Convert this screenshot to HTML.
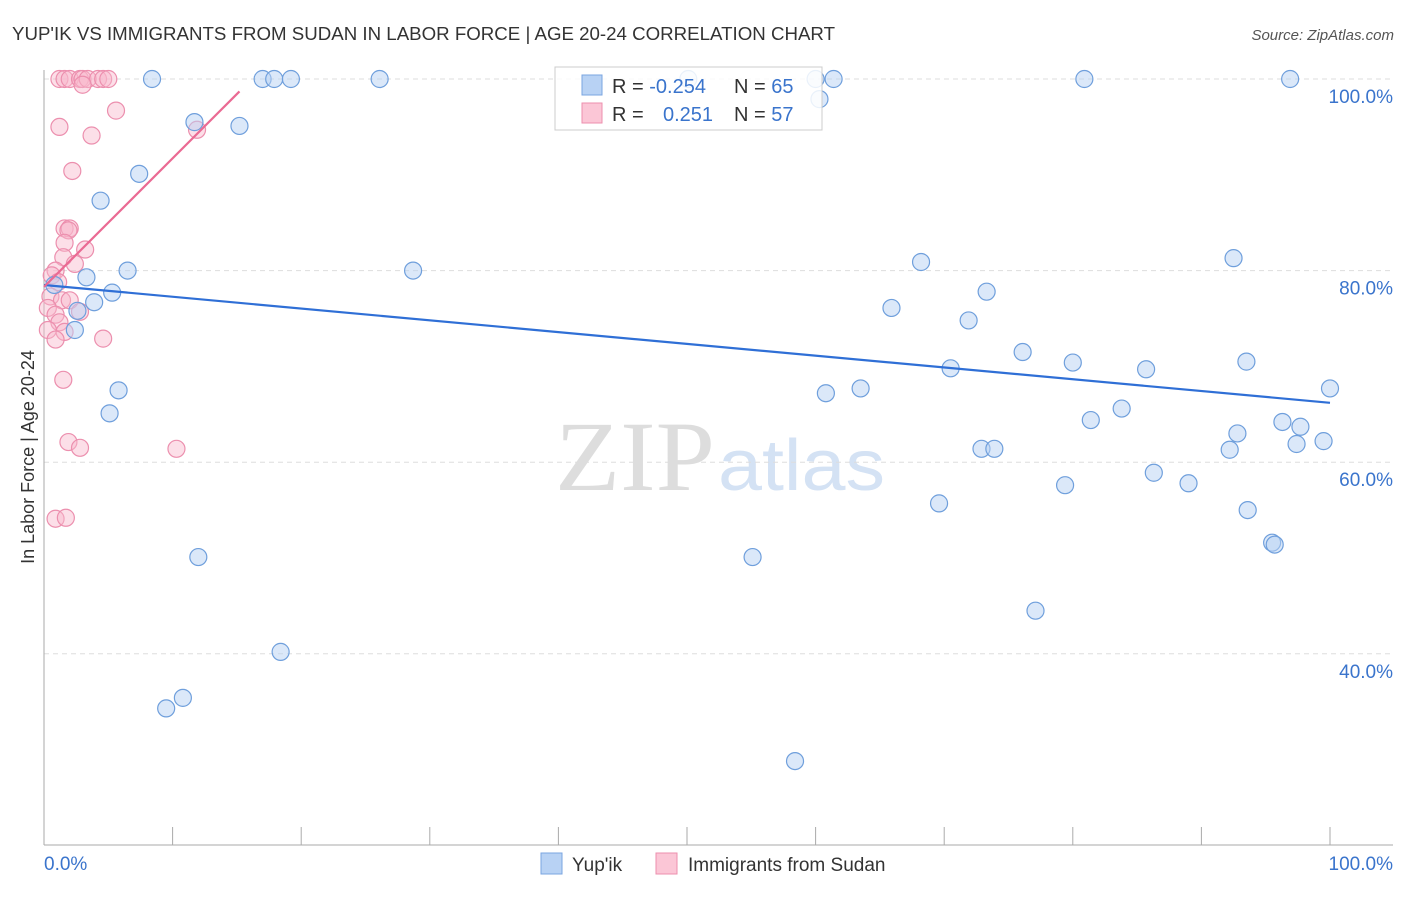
<!DOCTYPE html>
<html><head><meta charset="utf-8"><style>
body{margin:0;background:#fff;font-family:"Liberation Sans",sans-serif;}
</style></head><body>
<svg width="1406" height="892" xmlns="http://www.w3.org/2000/svg">
<text x="12" y="40" font-size="18" fill="#333" textLength="823" lengthAdjust="spacingAndGlyphs">YUP'IK VS IMMIGRANTS FROM SUDAN IN LABOR FORCE | AGE 20-24 CORRELATION CHART</text>
<text x="1394" y="40" font-size="15" fill="#555" font-style="italic" text-anchor="end">Source: ZipAtlas.com</text>
<text x="715" y="490" font-size="100" fill="#ddd" text-anchor="end" font-family="Liberation Serif" textLength="160" lengthAdjust="spacingAndGlyphs">ZIP</text>
<text x="718" y="490" font-size="72" fill="#d4e2f4" textLength="167" lengthAdjust="spacingAndGlyphs">atlas</text>
<g id="grid"></g>
<g id="axes"></g>
<g id="marks"></g>
<text transform="translate(34,457) rotate(-90)" font-size="18" fill="#333" text-anchor="middle">In Labor Force | Age 20-24</text>
<g>
<rect x="555" y="67" width="267" height="63" fill="#fff" fill-opacity="0.85" stroke="#ccc"/>
<rect x="582" y="75" width="20" height="20" fill="#b8d2f4" stroke="#7aa5e0"/>
<rect x="582" y="103" width="20" height="20" fill="#fbc6d6" stroke="#ec8fae"/>
<text x="612" y="93" font-size="20" fill="#333">R = <tspan fill="#3a74cc">-0.254</tspan></text>
<text x="734" y="93" font-size="20" fill="#333">N = <tspan fill="#3a74cc">65</tspan></text>
<text x="612" y="121" font-size="20" fill="#333">R = <tspan fill="#3a74cc" x="663">0.251</tspan></text>
<text x="734" y="121" font-size="20" fill="#333">N = <tspan fill="#3a74cc">57</tspan></text>
</g>
<g>
<rect x="541" y="853" width="21" height="21" fill="#b8d2f4" stroke="#7aa5e0"/>
<text x="572" y="871" font-size="19" fill="#333">Yup'ik</text>
<rect x="656" y="853" width="21" height="21" fill="#fbc6d6" stroke="#ec8fae"/>
<text x="688" y="871" font-size="19" fill="#333">Immigrants from Sudan</text>
</g>
</svg>
<script>
const yTicks=[100,80,60,40];
const yTickLabels=["100.0%","80.0%","60.0%","40.0%"];
const xTicks=[10,20,30,40,50,60,70,80,90,100];
const blueX=[8.4,17,17.9,19.2,26.1,50.1,60,61.4,80.9,96.9,60.3,11.7,15.2,7.4,4.4,6.5,3.3,28.7,5.3,3.9,2.6,2.4,0.8,5.8,5.1,12,18.4,9.5,10.8,68.2,65.9,73.3,71.9,76.1,70.5,80,85.7,93.5,92.5,100,60.8,63.5,81.4,83.8,96.3,97.7,92.8,97.4,99.5,92.2,72.9,73.9,69.6,79.4,86.3,89,93.6,95.5,95.7,55.1,77.1,58.4];
const blueY=[100,100,100,100,100,100,100,100,100,100,97.9,95.5,95.1,90.1,87.3,80,79.3,80,77.7,76.7,75.8,73.8,78.5,67.5,65.1,50.1,40.2,34.3,35.4,80.9,76.1,77.8,74.8,71.5,69.8,70.4,69.7,70.5,81.3,67.7,67.2,67.7,64.4,65.6,64.2,63.7,63,61.9,62.2,61.3,61.4,61.4,55.7,57.6,58.9,57.8,55,51.6,51.4,50.1,44.5,28.8];
const pinkX=[1.2,1.6,2,2.8,3,3.4,4.2,4.6,5,3,5.6,1.2,3.7,11.9,2.2,1.6,2,1.9,1.6,3.2,1.5,2.4,0.9,0.6,1.1,0.5,1.4,2,0.3,0.9,2.8,1.2,0.3,1.6,0.9,4.6,1.5,1.9,2.8,10.3,0.9,1.7];
const pinkY=[100,100,100,100,100,100,100,100,100,99.4,96.7,95,94.1,94.7,90.4,84.4,84.4,84.2,82.9,82.2,81.4,80.7,80,79.5,78.8,77.3,76.9,76.9,76.1,75.4,75.7,74.6,73.8,73.6,72.8,72.9,68.6,62.1,61.5,61.4,54.1,54.2];
const blueTrend=[[0,78.5],[100,66.2]];
const pinkTrend=[[0,78.3],[15.2,98.7]];
const NS="http://www.w3.org/2000/svg";
const X=v=>44+v*12.86, Y=v=>79+(100-v)*9.58;
function mk(t,a,p){const e=document.createElementNS(NS,t);for(const k in a)e.setAttribute(k,a[k]);document.getElementById(p).appendChild(e);return e;}
yTicks.forEach((t,i)=>{
 const l=mk('line',{x1:44,x2:1393,y1:Y(t),y2:Y(t),stroke:'#ddd','stroke-dasharray':'5,4'},'grid');
 
 
 const tx=mk('text',{x:1393,y:Y(t)+24,'font-size':19,fill:'#3a74cc','text-anchor':'end'},'axes');
 tx.textContent=yTickLabels[i];
 
 
});
let a=mk('line',{x1:44,x2:44,y1:70,y2:845,stroke:'#aaa'},'axes');


a=mk('line',{x1:44,x2:1393,y1:845,y2:845,stroke:'#aaa'},'axes');


xTicks.forEach(t=>{
 const l=mk('line',{x1:X(t),x2:X(t),y1:827,y2:845,stroke:'#aaa'},'axes');
 
 
});
let t=mk('text',{x:44,y:870,'font-size':19,fill:'#3a74cc'},'axes');t.textContent='0.0%';


t=mk('text',{x:1393,y:870,'font-size':19,fill:'#3a74cc','text-anchor':'end'},'axes');t.textContent='100.0%';


pinkX.forEach((x,i)=>{
 const c=mk('circle',{cx:X(x),cy:Y(pinkY[i]),r:8.5,fill:'#f9b8cc','fill-opacity':0.45,stroke:'#ec8fae','stroke-width':1.2},'marks');
 
 
});
blueX.forEach((x,i)=>{
 const c=mk('circle',{cx:X(x),cy:Y(blueY[i]),r:8.5,fill:'#b8d2f4','fill-opacity':0.5,stroke:'#6f9fdc','stroke-width':1.2},'marks');
 
 
});
let tl=mk('line',{x1:X(blueTrend[0][0]),y1:Y(blueTrend[0][1]),x2:X(blueTrend[1][0]),y2:Y(blueTrend[1][1]),stroke:'#2f6fd6','stroke-width':2.2},'marks');


tl=mk('line',{x1:X(pinkTrend[0][0]),y1:Y(pinkTrend[0][1]),x2:X(pinkTrend[1][0]),y2:Y(pinkTrend[1][1]),stroke:'#ea6a93','stroke-width':2.2},'marks');


</script>
</body></html>
